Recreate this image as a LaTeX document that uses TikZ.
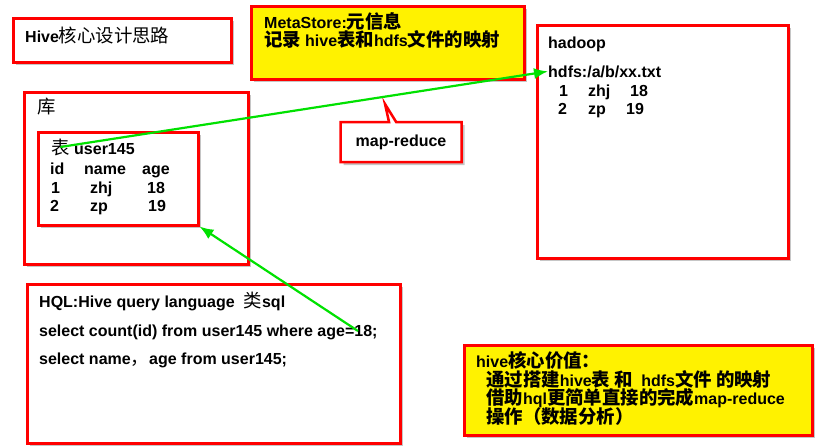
\documentclass[tikz,border=0pt]{standalone}
\usepackage{fontspec}
\setmainfont{Liberation Sans}
\newfontfamily\zh[Scale=1.15]{Noto Sans CJK SC}
\newcommand\zhm{\zh\mdseries}
\newcommand\lat{\rmfamily\bfseries}
\usetikzlibrary{shadows,shapes.callouts,arrows.meta}
\definecolor{linkgreen}{RGB}{0,225,0}
\tikzset{
  redbox/.style={draw=red, line width=2.5pt, fill=white, anchor=north west, inner sep=0pt,
    drop shadow={shadow xshift=3pt, shadow yshift=-3pt, opacity=0.45}},
  yellowbox/.style={redbox, fill=yellow},
  txt/.style={anchor=base west, inner sep=0pt, font=\fontsize{16}{19}\selectfont\bfseries},
  link/.style={draw=linkgreen, line width=2.2pt, -{Latex[length=14pt,width=11pt]}},
}
\begin{document}
\begin{tikzpicture}[x=1pt, y=-1pt]
\useasboundingbox (0,0) rectangle (818,447);
% boxes
\node[redbox, minimum width=218pt, minimum height=44pt] (titlebox) at (12,17) {};
\node[yellowbox, minimum width=273pt, minimum height=73pt] (metabox) at (250,5) {};
\node[redbox, minimum width=251pt, minimum height=233pt] (hadoopbox) at (536,24) {};
\node[redbox, minimum width=224pt, minimum height=172pt] (dbbox) at (23,91) {};
\node[redbox, minimum width=160pt, minimum height=93pt] (tblbox) at (37,131) {};
\node[redbox, minimum width=373pt, minimum height=159pt] (hqlbox) at (26,283) {};
\node[yellowbox, minimum width=348pt, minimum height=90pt] (valuebox) at (463,344) {};
\node[rectangle callout, draw=red, line width=2.5pt, fill=white, minimum width=121pt, minimum height=40pt,
  callout absolute pointer={(385,104)}, font=\fontsize{16}{19}\selectfont\bfseries,
  drop shadow={shadow xshift=3pt, shadow yshift=-3pt, opacity=0.45}] (mrcall) at (401,142) {map-reduce};

% title
\node[txt] (title) at (25,42) {Hive\zhm 核心设计思路};

% metastore
\node[txt] (meta1) at (264,28) {MetaStore:\zh 元信息};
\node[txt] (meta2) at (264,46) {\zh 记录 \lat hive\zh 表和\lat hdfs\zh 文件的映射};

% hadoop
\node[txt] (hadoop) at (548,48) {hadoop};
\node[txt] (hdfs) at (548,77) {hdfs:/a/b/xx.txt};
\node[txt] at (559,96) {1};
\node[txt] at (588,96) {zhj};
\node[txt] at (630,96) {18};
\node[txt] at (558,114) {2};
\node[txt] at (588,114) {zp};
\node[txt] at (626,114) {19};

% database and table
\node[txt] (db) at (37,113) {\zhm 库};
\node[txt] (tblname) at (51,154) {\zhm 表};
\node[txt] at (74,154) {user145};
\node[txt] at (50,174) {id};
\node[txt] at (84,174) {name};
\node[txt] at (142,174) {age};
\node[txt] at (51,193) {1};
\node[txt] at (90,193) {zhj};
\node[txt] at (147,193) {18};
\node[txt] at (50,211) {2};
\node[txt] at (90,211) {zp};
\node[txt] at (148,211) {19};

% hql
\node[txt] (hql1) at (39,307) {HQL:Hive query language\ \ \zhm 类\lat sql};
\node[txt] (hql2) at (39,336) {select count(id) from user145 where age=18;};
\node[txt] (hql3) at (39,364) {select name\zhm ，\lat age from user145;};
\coordinate (eq) at (358,331);

% value
\node[txt] (val1) at (476,367) {hive\zh 核心价值：};
\node[txt] (val2) at (486,386) {\zh 通过搭建\lat hive\zh 表 和 \ \lat hdfs\zh 文件 的映射};
\node[txt] (val3) at (486,404) {\zh 借助\lat hql\zh 更简单直接的完成\lat map-reduce};
\node[txt] (val4) at (486,423) {\zh 操作（数据分析）};

% links
\draw[link] (tblname.center) -- (hdfs.west);
\draw[link] (eq) -- (tblbox.south east);
\end{tikzpicture}
\end{document}
